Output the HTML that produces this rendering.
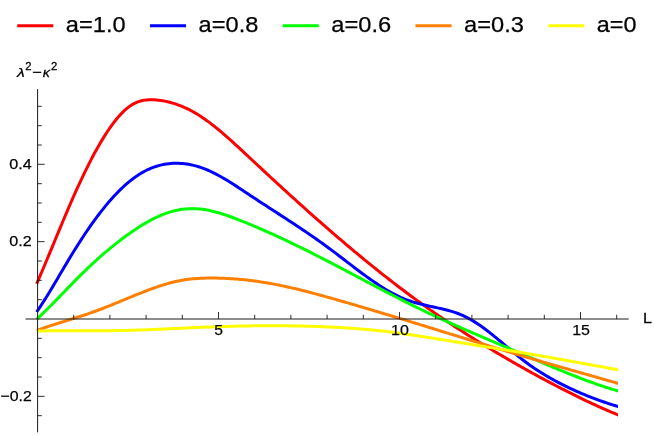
<!DOCTYPE html>
<html>
<head>
<meta charset="utf-8">
<title>Plot</title>
<style>
html,body{margin:0;padding:0;background:#fff;}
body{width:654px;height:436px;overflow:hidden;font-family:"Liberation Sans",sans-serif;}
svg{display:block;}
text{font-family:"Liberation Sans",sans-serif;fill:#000;stroke:#000;stroke-width:0.25px;}
</style>
</head>
<body>
<svg width="654" height="436" viewBox="0 0 654 436">
<rect width="654" height="436" fill="#ffffff"/>
<defs><clipPath id="pc"><rect x="0" y="80" width="618.0" height="356"/></clipPath></defs>
<g fill="none" stroke-width="3.0" stroke-linejoin="round" stroke-linecap="butt" clip-path="url(#pc)">
<path d="M36.6,283.86 L38.6,279.28 L40.6,274.65 L42.6,269.97 L44.6,265.25 L46.6,260.49 L48.6,255.70 L50.6,250.90 L52.6,246.08 L54.6,241.25 L56.6,236.42 L58.6,231.60 L60.6,226.80 L62.6,222.01 L64.6,217.26 L66.6,212.54 L68.6,207.87 L70.6,203.24 L72.6,198.68 L74.6,194.17 L76.6,189.72 L78.6,185.34 L80.6,181.03 L82.6,176.80 L84.6,172.64 L86.6,168.55 L88.6,164.55 L90.6,160.64 L92.6,156.81 L94.6,153.07 L96.6,149.43 L98.6,145.89 L100.6,142.45 L102.6,139.11 L104.6,135.88 L106.6,132.76 L108.6,129.76 L110.6,126.87 L112.6,124.11 L114.6,121.48 L116.6,118.98 L118.6,116.62 L120.6,114.41 L122.6,112.34 L124.6,110.43 L126.6,108.67 L128.6,107.07 L130.6,105.65 L132.6,104.39 L134.6,103.31 L136.6,102.39 L138.6,101.62 L140.6,100.99 L142.6,100.50 L144.6,100.13 L146.6,99.88 L148.6,99.72 L150.6,99.67 L152.6,99.69 L154.6,99.79 L156.6,99.96 L158.6,100.18 L160.6,100.44 L162.6,100.76 L164.6,101.13 L166.6,101.54 L168.6,102.00 L170.6,102.51 L172.6,103.08 L174.6,103.69 L176.6,104.35 L178.6,105.06 L180.6,105.83 L182.6,106.64 L184.6,107.51 L186.6,108.43 L188.6,109.40 L190.6,110.42 L192.6,111.50 L194.6,112.62 L196.6,113.80 L198.6,115.04 L200.6,116.32 L202.6,117.65 L204.6,119.02 L206.6,120.44 L208.6,121.90 L210.6,123.40 L212.6,124.94 L214.6,126.51 L216.6,128.12 L218.6,129.76 L220.6,131.43 L222.6,133.12 L224.6,134.85 L226.6,136.59 L228.6,138.36 L230.6,140.14 L232.6,141.95 L234.6,143.77 L236.6,145.60 L238.6,147.44 L240.6,149.30 L242.6,151.16 L244.6,153.03 L246.6,154.90 L248.6,156.77 L250.6,158.64 L252.6,160.51 L254.6,162.38 L256.6,164.24 L258.6,166.11 L260.6,167.97 L262.6,169.83 L264.6,171.69 L266.6,173.54 L268.6,175.39 L270.6,177.24 L272.6,179.09 L274.6,180.93 L276.6,182.77 L278.6,184.61 L280.6,186.45 L282.6,188.28 L284.6,190.11 L286.6,191.94 L288.6,193.76 L290.6,195.58 L292.6,197.39 L294.6,199.21 L296.6,201.01 L298.6,202.82 L300.6,204.62 L302.6,206.42 L304.6,208.21 L306.6,210.00 L308.6,211.79 L310.6,213.57 L312.6,215.34 L314.6,217.12 L316.6,218.89 L318.6,220.65 L320.6,222.41 L322.6,224.16 L324.6,225.91 L326.6,227.66 L328.6,229.40 L330.6,231.13 L332.6,232.86 L334.6,234.59 L336.6,236.31 L338.6,238.02 L340.6,239.73 L342.6,241.44 L344.6,243.14 L346.6,244.83 L348.6,246.52 L350.6,248.20 L352.6,249.88 L354.6,251.55 L356.6,253.21 L358.6,254.87 L360.6,256.52 L362.6,258.17 L364.6,259.81 L366.6,261.45 L368.6,263.08 L370.6,264.70 L372.6,266.31 L374.6,267.92 L376.6,269.53 L378.6,271.12 L380.6,272.71 L382.6,274.30 L384.6,275.87 L386.6,277.44 L388.6,279.01 L390.6,280.56 L392.6,282.11 L394.6,283.65 L396.6,285.19 L398.6,286.71 L400.6,288.23 L402.6,289.75 L404.6,291.25 L406.6,292.75 L408.6,294.24 L410.6,295.72 L412.6,297.20 L414.6,298.66 L416.6,300.12 L418.6,301.57 L420.6,303.02 L422.6,304.45 L424.6,305.88 L426.6,307.30 L428.6,308.71 L430.6,310.11 L432.6,311.51 L434.6,312.90 L436.6,314.28 L438.6,315.66 L440.6,317.02 L442.6,318.38 L444.6,319.73 L446.6,321.08 L448.6,322.42 L450.6,323.75 L452.6,325.07 L454.6,326.39 L456.6,327.70 L458.6,329.01 L460.6,330.30 L462.6,331.59 L464.6,332.88 L466.6,334.16 L468.6,335.43 L470.6,336.69 L472.6,337.95 L474.6,339.21 L476.6,340.46 L478.6,341.70 L480.6,342.93 L482.6,344.16 L484.6,345.39 L486.6,346.61 L488.6,347.82 L490.6,349.03 L492.6,350.23 L494.6,351.43 L496.6,352.62 L498.6,353.80 L500.6,354.98 L502.6,356.16 L504.6,357.33 L506.6,358.50 L508.6,359.66 L510.6,360.82 L512.6,361.97 L514.6,363.11 L516.6,364.25 L518.6,365.39 L520.6,366.52 L522.6,367.65 L524.6,368.77 L526.6,369.88 L528.6,370.99 L530.6,372.10 L532.6,373.20 L534.6,374.30 L536.6,375.39 L538.6,376.47 L540.6,377.56 L542.6,378.63 L544.6,379.70 L546.6,380.77 L548.6,381.83 L550.6,382.89 L552.6,383.94 L554.6,384.99 L556.6,386.03 L558.6,387.07 L560.6,388.10 L562.6,389.12 L564.6,390.15 L566.6,391.16 L568.6,392.17 L570.6,393.18 L572.6,394.18 L574.6,395.17 L576.6,396.16 L578.6,397.14 L580.6,398.11 L582.6,399.08 L584.6,400.04 L586.6,400.99 L588.6,401.94 L590.6,402.88 L592.6,403.81 L594.6,404.73 L596.6,405.64 L598.6,406.55 L600.6,407.45 L602.6,408.34 L604.6,409.22 L606.6,410.09 L608.6,410.95 L610.6,411.80 L612.6,412.64 L614.6,413.47 L616.6,414.29 L618.6,415.11 L620.6,415.91" stroke="#ff0000"/>
<path d="M36.6,312.00 L38.6,309.10 L40.6,306.11 L42.6,303.05 L44.6,299.92 L46.6,296.73 L48.6,293.49 L50.6,290.20 L52.6,286.88 L54.6,283.52 L56.6,280.14 L58.6,276.75 L60.6,273.36 L62.6,269.96 L64.6,266.58 L66.6,263.21 L68.6,259.86 L70.6,256.55 L72.6,253.27 L74.6,250.04 L76.6,246.84 L78.6,243.69 L80.6,240.58 L82.6,237.51 L84.6,234.49 L86.6,231.52 L88.6,228.59 L90.6,225.72 L92.6,222.90 L94.6,220.12 L96.6,217.41 L98.6,214.74 L100.6,212.14 L102.6,209.59 L104.6,207.10 L106.6,204.67 L108.6,202.30 L110.6,199.99 L112.6,197.75 L114.6,195.57 L116.6,193.46 L118.6,191.42 L120.6,189.44 L122.6,187.53 L124.6,185.69 L126.6,183.92 L128.6,182.22 L130.6,180.59 L132.6,179.03 L134.6,177.54 L136.6,176.13 L138.6,174.80 L140.6,173.54 L142.6,172.36 L144.6,171.25 L146.6,170.22 L148.6,169.27 L150.6,168.40 L152.6,167.59 L154.6,166.87 L156.6,166.21 L158.6,165.62 L160.6,165.11 L162.6,164.65 L164.6,164.27 L166.6,163.95 L168.6,163.69 L170.6,163.50 L172.6,163.36 L174.6,163.28 L176.6,163.27 L178.6,163.30 L180.6,163.40 L182.6,163.55 L184.6,163.75 L186.6,164.02 L188.6,164.34 L190.6,164.71 L192.6,165.14 L194.6,165.62 L196.6,166.16 L198.6,166.75 L200.6,167.39 L202.6,168.09 L204.6,168.84 L206.6,169.65 L208.6,170.50 L210.6,171.41 L212.6,172.36 L214.6,173.35 L216.6,174.38 L218.6,175.45 L220.6,176.56 L222.6,177.70 L224.6,178.87 L226.6,180.06 L228.6,181.29 L230.6,182.53 L232.6,183.79 L234.6,185.07 L236.6,186.37 L238.6,187.68 L240.6,189.00 L242.6,190.32 L244.6,191.65 L246.6,192.98 L248.6,194.31 L250.6,195.64 L252.6,196.96 L254.6,198.27 L256.6,199.59 L258.6,200.89 L260.6,202.20 L262.6,203.50 L264.6,204.80 L266.6,206.10 L268.6,207.40 L270.6,208.69 L272.6,209.99 L274.6,211.29 L276.6,212.58 L278.6,213.88 L280.6,215.18 L282.6,216.48 L284.6,217.78 L286.6,219.08 L288.6,220.39 L290.6,221.70 L292.6,223.02 L294.6,224.34 L296.6,225.66 L298.6,226.99 L300.6,228.33 L302.6,229.67 L304.6,231.02 L306.6,232.38 L308.6,233.74 L310.6,235.12 L312.6,236.50 L314.6,237.89 L316.6,239.29 L318.6,240.70 L320.6,242.12 L322.6,243.56 L324.6,245.00 L326.6,246.46 L328.6,247.92 L330.6,249.40 L332.6,250.90 L334.6,252.40 L336.6,253.92 L338.6,255.44 L340.6,256.96 L342.6,258.50 L344.6,260.03 L346.6,261.57 L348.6,263.10 L350.6,264.63 L352.6,266.16 L354.6,267.69 L356.6,269.20 L358.6,270.71 L360.6,272.21 L362.6,273.69 L364.6,275.16 L366.6,276.62 L368.6,278.06 L370.6,279.47 L372.6,280.87 L374.6,282.25 L376.6,283.60 L378.6,284.93 L380.6,286.23 L382.6,287.50 L384.6,288.74 L386.6,289.94 L388.6,291.12 L390.6,292.25 L392.6,293.35 L394.6,294.40 L396.6,295.42 L398.6,296.39 L400.6,297.32 L402.6,298.19 L404.6,299.02 L406.6,299.80 L408.6,300.53 L410.6,301.21 L412.6,301.85 L414.6,302.46 L416.6,303.03 L418.6,303.57 L420.6,304.08 L422.6,304.57 L424.6,305.04 L426.6,305.50 L428.6,305.94 L430.6,306.37 L432.6,306.80 L434.6,307.23 L436.6,307.65 L438.6,308.09 L440.6,308.53 L442.6,308.99 L444.6,309.47 L446.6,309.97 L448.6,310.51 L450.6,311.07 L452.6,311.67 L454.6,312.31 L456.6,313.00 L458.6,313.74 L460.6,314.53 L462.6,315.39 L464.6,316.30 L466.6,317.29 L468.6,318.34 L470.6,319.45 L472.6,320.62 L474.6,321.85 L476.6,323.13 L478.6,324.47 L480.6,325.85 L482.6,327.27 L484.6,328.74 L486.6,330.24 L488.6,331.77 L490.6,333.34 L492.6,334.94 L494.6,336.55 L496.6,338.19 L498.6,339.85 L500.6,341.52 L502.6,343.21 L504.6,344.89 L506.6,346.58 L508.6,348.27 L510.6,349.96 L512.6,351.63 L514.6,353.29 L516.6,354.94 L518.6,356.56 L520.6,358.16 L522.6,359.73 L524.6,361.27 L526.6,362.77 L528.6,364.24 L530.6,365.67 L532.6,367.06 L534.6,368.43 L536.6,369.76 L538.6,371.06 L540.6,372.34 L542.6,373.58 L544.6,374.79 L546.6,375.98 L548.6,377.15 L550.6,378.28 L552.6,379.40 L554.6,380.49 L556.6,381.56 L558.6,382.61 L560.6,383.64 L562.6,384.65 L564.6,385.64 L566.6,386.62 L568.6,387.58 L570.6,388.53 L572.6,389.46 L574.6,390.37 L576.6,391.27 L578.6,392.15 L580.6,393.01 L582.6,393.86 L584.6,394.70 L586.6,395.52 L588.6,396.32 L590.6,397.11 L592.6,397.89 L594.6,398.65 L596.6,399.39 L598.6,400.12 L600.6,400.84 L602.6,401.54 L604.6,402.23 L606.6,402.90 L608.6,403.56 L610.6,404.21 L612.6,404.84 L614.6,405.46 L616.6,406.06 L618.6,406.65 L620.6,407.23" stroke="#0000ff"/>
<path d="M36.6,319.25 L38.6,317.41 L40.6,315.54 L42.6,313.63 L44.6,311.70 L46.6,309.74 L48.6,307.76 L50.6,305.76 L52.6,303.75 L54.6,301.71 L56.6,299.67 L58.6,297.62 L60.6,295.55 L62.6,293.49 L64.6,291.42 L66.6,289.35 L68.6,287.29 L70.6,285.23 L72.6,283.19 L74.6,281.15 L76.6,279.13 L78.6,277.12 L80.6,275.13 L82.6,273.17 L84.6,271.22 L86.6,269.30 L88.6,267.39 L90.6,265.51 L92.6,263.65 L94.6,261.82 L96.6,260.00 L98.6,258.21 L100.6,256.44 L102.6,254.70 L104.6,252.97 L106.6,251.27 L108.6,249.59 L110.6,247.94 L112.6,246.31 L114.6,244.70 L116.6,243.12 L118.6,241.56 L120.6,240.02 L122.6,238.51 L124.6,237.02 L126.6,235.56 L128.6,234.12 L130.6,232.71 L132.6,231.33 L134.6,229.97 L136.6,228.64 L138.6,227.33 L140.6,226.06 L142.6,224.83 L144.6,223.63 L146.6,222.46 L148.6,221.33 L150.6,220.24 L152.6,219.20 L154.6,218.19 L156.6,217.23 L158.6,216.31 L160.6,215.44 L162.6,214.62 L164.6,213.84 L166.6,213.12 L168.6,212.45 L170.6,211.84 L172.6,211.27 L174.6,210.77 L176.6,210.32 L178.6,209.92 L180.6,209.58 L182.6,209.29 L184.6,209.06 L186.6,208.88 L188.6,208.75 L190.6,208.67 L192.6,208.65 L194.6,208.68 L196.6,208.76 L198.6,208.89 L200.6,209.08 L202.6,209.32 L204.6,209.60 L206.6,209.93 L208.6,210.31 L210.6,210.72 L212.6,211.18 L214.6,211.68 L216.6,212.21 L218.6,212.77 L220.6,213.37 L222.6,213.99 L224.6,214.64 L226.6,215.32 L228.6,216.02 L230.6,216.74 L232.6,217.48 L234.6,218.23 L236.6,219.00 L238.6,219.78 L240.6,220.57 L242.6,221.36 L244.6,222.17 L246.6,222.98 L248.6,223.80 L250.6,224.63 L252.6,225.47 L254.6,226.31 L256.6,227.16 L258.6,228.02 L260.6,228.88 L262.6,229.75 L264.6,230.63 L266.6,231.52 L268.6,232.41 L270.6,233.31 L272.6,234.21 L274.6,235.12 L276.6,236.04 L278.6,236.96 L280.6,237.89 L282.6,238.82 L284.6,239.76 L286.6,240.71 L288.6,241.66 L290.6,242.62 L292.6,243.58 L294.6,244.54 L296.6,245.52 L298.6,246.49 L300.6,247.47 L302.6,248.46 L304.6,249.45 L306.6,250.44 L308.6,251.44 L310.6,252.45 L312.6,253.45 L314.6,254.47 L316.6,255.48 L318.6,256.50 L320.6,257.52 L322.6,258.55 L324.6,259.58 L326.6,260.61 L328.6,261.64 L330.6,262.68 L332.6,263.72 L334.6,264.77 L336.6,265.81 L338.6,266.86 L340.6,267.91 L342.6,268.96 L344.6,270.01 L346.6,271.06 L348.6,272.12 L350.6,273.17 L352.6,274.23 L354.6,275.28 L356.6,276.34 L358.6,277.40 L360.6,278.45 L362.6,279.51 L364.6,280.57 L366.6,281.62 L368.6,282.68 L370.6,283.73 L372.6,284.78 L374.6,285.84 L376.6,286.89 L378.6,287.93 L380.6,288.98 L382.6,290.02 L384.6,291.07 L386.6,292.11 L388.6,293.14 L390.6,294.18 L392.6,295.21 L394.6,296.24 L396.6,297.26 L398.6,298.28 L400.6,299.30 L402.6,300.31 L404.6,301.32 L406.6,302.33 L408.6,303.33 L410.6,304.32 L412.6,305.31 L414.6,306.30 L416.6,307.28 L418.6,308.26 L420.6,309.23 L422.6,310.19 L424.6,311.15 L426.6,312.10 L428.6,313.05 L430.6,313.99 L432.6,314.93 L434.6,315.86 L436.6,316.79 L438.6,317.72 L440.6,318.64 L442.6,319.55 L444.6,320.46 L446.6,321.37 L448.6,322.27 L450.6,323.17 L452.6,324.07 L454.6,324.96 L456.6,325.85 L458.6,326.73 L460.6,327.62 L462.6,328.50 L464.6,329.37 L466.6,330.25 L468.6,331.12 L470.6,331.99 L472.6,332.86 L474.6,333.72 L476.6,334.58 L478.6,335.45 L480.6,336.31 L482.6,337.16 L484.6,338.02 L486.6,338.88 L488.6,339.73 L490.6,340.59 L492.6,341.44 L494.6,342.29 L496.6,343.14 L498.6,343.99 L500.6,344.85 L502.6,345.70 L504.6,346.55 L506.6,347.40 L508.6,348.25 L510.6,349.10 L512.6,349.95 L514.6,350.81 L516.6,351.66 L518.6,352.52 L520.6,353.37 L522.6,354.23 L524.6,355.09 L526.6,355.94 L528.6,356.80 L530.6,357.66 L532.6,358.52 L534.6,359.38 L536.6,360.24 L538.6,361.09 L540.6,361.95 L542.6,362.80 L544.6,363.65 L546.6,364.50 L548.6,365.34 L550.6,366.18 L552.6,367.02 L554.6,367.86 L556.6,368.69 L558.6,369.52 L560.6,370.35 L562.6,371.17 L564.6,371.98 L566.6,372.79 L568.6,373.59 L570.6,374.39 L572.6,375.18 L574.6,375.97 L576.6,376.75 L578.6,377.52 L580.6,378.29 L582.6,379.04 L584.6,379.79 L586.6,380.54 L588.6,381.27 L590.6,382.00 L592.6,382.71 L594.6,383.42 L596.6,384.12 L598.6,384.81 L600.6,385.48 L602.6,386.15 L604.6,386.81 L606.6,387.45 L608.6,388.09 L610.6,388.71 L612.6,389.32 L614.6,389.92 L616.6,390.51 L618.6,391.09 L620.6,391.65" stroke="#00ff00"/>
<path d="M36.6,330.60 L38.6,329.84 L40.6,329.10 L42.6,328.37 L44.6,327.67 L46.6,326.98 L48.6,326.30 L50.6,325.63 L52.6,324.98 L54.6,324.34 L56.6,323.70 L58.6,323.08 L60.6,322.45 L62.6,321.84 L64.6,321.22 L66.6,320.61 L68.6,320.00 L70.6,319.39 L72.6,318.77 L74.6,318.16 L76.6,317.53 L78.6,316.91 L80.6,316.27 L82.6,315.62 L84.6,314.97 L86.6,314.30 L88.6,313.62 L90.6,312.93 L92.6,312.22 L94.6,311.50 L96.6,310.76 L98.6,310.01 L100.6,309.25 L102.6,308.48 L104.6,307.70 L106.6,306.92 L108.6,306.12 L110.6,305.32 L112.6,304.51 L114.6,303.70 L116.6,302.88 L118.6,302.06 L120.6,301.23 L122.6,300.41 L124.6,299.58 L126.6,298.76 L128.6,297.94 L130.6,297.11 L132.6,296.30 L134.6,295.48 L136.6,294.67 L138.6,293.87 L140.6,293.07 L142.6,292.28 L144.6,291.50 L146.6,290.73 L148.6,289.97 L150.6,289.22 L152.6,288.49 L154.6,287.78 L156.6,287.08 L158.6,286.40 L160.6,285.74 L162.6,285.10 L164.6,284.48 L166.6,283.89 L168.6,283.32 L170.6,282.78 L172.6,282.27 L174.6,281.79 L176.6,281.33 L178.6,280.91 L180.6,280.53 L182.6,280.17 L184.6,279.85 L186.6,279.56 L188.6,279.30 L190.6,279.07 L192.6,278.86 L194.6,278.69 L196.6,278.53 L198.6,278.41 L200.6,278.30 L202.6,278.22 L204.6,278.15 L206.6,278.11 L208.6,278.08 L210.6,278.07 L212.6,278.07 L214.6,278.09 L216.6,278.11 L218.6,278.16 L220.6,278.21 L222.6,278.28 L224.6,278.36 L226.6,278.45 L228.6,278.55 L230.6,278.66 L232.6,278.79 L234.6,278.93 L236.6,279.08 L238.6,279.25 L240.6,279.42 L242.6,279.61 L244.6,279.81 L246.6,280.02 L248.6,280.25 L250.6,280.49 L252.6,280.74 L254.6,281.00 L256.6,281.27 L258.6,281.56 L260.6,281.86 L262.6,282.17 L264.6,282.49 L266.6,282.82 L268.6,283.17 L270.6,283.52 L272.6,283.89 L274.6,284.27 L276.6,284.65 L278.6,285.05 L280.6,285.46 L282.6,285.88 L284.6,286.30 L286.6,286.74 L288.6,287.18 L290.6,287.63 L292.6,288.09 L294.6,288.56 L296.6,289.03 L298.6,289.52 L300.6,290.01 L302.6,290.50 L304.6,291.01 L306.6,291.52 L308.6,292.03 L310.6,292.55 L312.6,293.08 L314.6,293.61 L316.6,294.15 L318.6,294.69 L320.6,295.23 L322.6,295.78 L324.6,296.33 L326.6,296.89 L328.6,297.45 L330.6,298.02 L332.6,298.58 L334.6,299.15 L336.6,299.72 L338.6,300.29 L340.6,300.87 L342.6,301.44 L344.6,302.02 L346.6,302.60 L348.6,303.18 L350.6,303.76 L352.6,304.35 L354.6,304.93 L356.6,305.52 L358.6,306.10 L360.6,306.69 L362.6,307.28 L364.6,307.87 L366.6,308.47 L368.6,309.06 L370.6,309.65 L372.6,310.25 L374.6,310.85 L376.6,311.44 L378.6,312.04 L380.6,312.64 L382.6,313.24 L384.6,313.85 L386.6,314.45 L388.6,315.05 L390.6,315.66 L392.6,316.26 L394.6,316.87 L396.6,317.47 L398.6,318.08 L400.6,318.69 L402.6,319.30 L404.6,319.91 L406.6,320.52 L408.6,321.13 L410.6,321.74 L412.6,322.35 L414.6,322.97 L416.6,323.58 L418.6,324.19 L420.6,324.81 L422.6,325.42 L424.6,326.04 L426.6,326.65 L428.6,327.27 L430.6,327.88 L432.6,328.50 L434.6,329.12 L436.6,329.73 L438.6,330.35 L440.6,330.97 L442.6,331.59 L444.6,332.20 L446.6,332.82 L448.6,333.44 L450.6,334.06 L452.6,334.67 L454.6,335.29 L456.6,335.91 L458.6,336.53 L460.6,337.14 L462.6,337.76 L464.6,338.38 L466.6,338.99 L468.6,339.61 L470.6,340.23 L472.6,340.84 L474.6,341.46 L476.6,342.07 L478.6,342.69 L480.6,343.30 L482.6,343.91 L484.6,344.53 L486.6,345.14 L488.6,345.75 L490.6,346.36 L492.6,346.97 L494.6,347.58 L496.6,348.19 L498.6,348.80 L500.6,349.41 L502.6,350.01 L504.6,350.62 L506.6,351.22 L508.6,351.82 L510.6,352.43 L512.6,353.03 L514.6,353.63 L516.6,354.22 L518.6,354.82 L520.6,355.42 L522.6,356.01 L524.6,356.61 L526.6,357.20 L528.6,357.79 L530.6,358.38 L532.6,358.97 L534.6,359.55 L536.6,360.14 L538.6,360.72 L540.6,361.30 L542.6,361.88 L544.6,362.46 L546.6,363.04 L548.6,363.61 L550.6,364.19 L552.6,364.76 L554.6,365.33 L556.6,365.90 L558.6,366.47 L560.6,367.04 L562.6,367.61 L564.6,368.18 L566.6,368.75 L568.6,369.31 L570.6,369.88 L572.6,370.45 L574.6,371.01 L576.6,371.58 L578.6,372.15 L580.6,372.71 L582.6,373.28 L584.6,373.85 L586.6,374.41 L588.6,374.98 L590.6,375.55 L592.6,376.12 L594.6,376.68 L596.6,377.25 L598.6,377.82 L600.6,378.40 L602.6,378.97 L604.6,379.54 L606.6,380.12 L608.6,380.69 L610.6,381.27 L612.6,381.85 L614.6,382.43 L616.6,383.02 L618.6,383.60 L620.6,384.19" stroke="#ff8000"/>
<path d="M36.6,330.95 L38.6,330.93 L40.6,330.91 L42.6,330.90 L44.6,330.88 L46.6,330.87 L48.6,330.86 L50.6,330.85 L52.6,330.85 L54.6,330.84 L56.6,330.84 L58.6,330.84 L60.6,330.84 L62.6,330.83 L64.6,330.83 L66.6,330.84 L68.6,330.84 L70.6,330.84 L72.6,330.84 L74.6,330.84 L76.6,330.84 L78.6,330.84 L80.6,330.84 L82.6,330.84 L84.6,330.84 L86.6,330.84 L88.6,330.84 L90.6,330.83 L92.6,330.83 L94.6,330.82 L96.6,330.81 L98.6,330.80 L100.6,330.79 L102.6,330.78 L104.6,330.76 L106.6,330.74 L108.6,330.72 L110.6,330.70 L112.6,330.67 L114.6,330.64 L116.6,330.61 L118.6,330.57 L120.6,330.53 L122.6,330.49 L124.6,330.44 L126.6,330.39 L128.6,330.34 L130.6,330.28 L132.6,330.22 L134.6,330.16 L136.6,330.10 L138.6,330.03 L140.6,329.96 L142.6,329.89 L144.6,329.82 L146.6,329.74 L148.6,329.66 L150.6,329.58 L152.6,329.50 L154.6,329.42 L156.6,329.33 L158.6,329.25 L160.6,329.16 L162.6,329.07 L164.6,328.99 L166.6,328.90 L168.6,328.81 L170.6,328.71 L172.6,328.62 L174.6,328.53 L176.6,328.44 L178.6,328.35 L180.6,328.25 L182.6,328.16 L184.6,328.07 L186.6,327.98 L188.6,327.89 L190.6,327.80 L192.6,327.71 L194.6,327.62 L196.6,327.53 L198.6,327.44 L200.6,327.36 L202.6,327.27 L204.6,327.19 L206.6,327.11 L208.6,327.03 L210.6,326.95 L212.6,326.88 L214.6,326.80 L216.6,326.73 L218.6,326.66 L220.6,326.59 L222.6,326.53 L224.6,326.47 L226.6,326.41 L228.6,326.35 L230.6,326.30 L232.6,326.24 L234.6,326.19 L236.6,326.15 L238.6,326.10 L240.6,326.06 L242.6,326.02 L244.6,325.99 L246.6,325.95 L248.6,325.92 L250.6,325.89 L252.6,325.87 L254.6,325.84 L256.6,325.82 L258.6,325.80 L260.6,325.79 L262.6,325.77 L264.6,325.76 L266.6,325.76 L268.6,325.75 L270.6,325.75 L272.6,325.75 L274.6,325.76 L276.6,325.76 L278.6,325.77 L280.6,325.78 L282.6,325.80 L284.6,325.82 L286.6,325.84 L288.6,325.86 L290.6,325.89 L292.6,325.91 L294.6,325.95 L296.6,325.98 L298.6,326.02 L300.6,326.06 L302.6,326.10 L304.6,326.15 L306.6,326.20 L308.6,326.25 L310.6,326.31 L312.6,326.37 L314.6,326.43 L316.6,326.49 L318.6,326.56 L320.6,326.64 L322.6,326.71 L324.6,326.79 L326.6,326.88 L328.6,326.97 L330.6,327.06 L332.6,327.16 L334.6,327.26 L336.6,327.36 L338.6,327.47 L340.6,327.58 L342.6,327.70 L344.6,327.82 L346.6,327.95 L348.6,328.08 L350.6,328.22 L352.6,328.36 L354.6,328.51 L356.6,328.66 L358.6,328.81 L360.6,328.98 L362.6,329.14 L364.6,329.31 L366.6,329.49 L368.6,329.67 L370.6,329.86 L372.6,330.06 L374.6,330.26 L376.6,330.46 L378.6,330.67 L380.6,330.89 L382.6,331.11 L384.6,331.34 L386.6,331.57 L388.6,331.81 L390.6,332.06 L392.6,332.31 L394.6,332.56 L396.6,332.82 L398.6,333.09 L400.6,333.36 L402.6,333.63 L404.6,333.91 L406.6,334.19 L408.6,334.47 L410.6,334.76 L412.6,335.05 L414.6,335.35 L416.6,335.65 L418.6,335.95 L420.6,336.25 L422.6,336.56 L424.6,336.87 L426.6,337.18 L428.6,337.49 L430.6,337.81 L432.6,338.13 L434.6,338.44 L436.6,338.76 L438.6,339.09 L440.6,339.41 L442.6,339.73 L444.6,340.06 L446.6,340.38 L448.6,340.71 L450.6,341.04 L452.6,341.36 L454.6,341.69 L456.6,342.02 L458.6,342.34 L460.6,342.67 L462.6,342.99 L464.6,343.32 L466.6,343.64 L468.6,343.97 L470.6,344.29 L472.6,344.61 L474.6,344.94 L476.6,345.26 L478.6,345.58 L480.6,345.91 L482.6,346.23 L484.6,346.55 L486.6,346.87 L488.6,347.20 L490.6,347.52 L492.6,347.84 L494.6,348.17 L496.6,348.49 L498.6,348.82 L500.6,349.14 L502.6,349.47 L504.6,349.79 L506.6,350.12 L508.6,350.45 L510.6,350.77 L512.6,351.10 L514.6,351.43 L516.6,351.76 L518.6,352.09 L520.6,352.43 L522.6,352.76 L524.6,353.10 L526.6,353.43 L528.6,353.77 L530.6,354.11 L532.6,354.45 L534.6,354.79 L536.6,355.13 L538.6,355.48 L540.6,355.82 L542.6,356.17 L544.6,356.52 L546.6,356.87 L548.6,357.22 L550.6,357.57 L552.6,357.93 L554.6,358.28 L556.6,358.64 L558.6,358.99 L560.6,359.35 L562.6,359.71 L564.6,360.07 L566.6,360.43 L568.6,360.79 L570.6,361.16 L572.6,361.52 L574.6,361.88 L576.6,362.24 L578.6,362.61 L580.6,362.97 L582.6,363.33 L584.6,363.70 L586.6,364.06 L588.6,364.43 L590.6,364.79 L592.6,365.15 L594.6,365.52 L596.6,365.88 L598.6,366.24 L600.6,366.60 L602.6,366.96 L604.6,367.33 L606.6,367.69 L608.6,368.04 L610.6,368.40 L612.6,368.76 L614.6,369.12 L616.6,369.47 L618.6,369.83 L620.6,370.18" stroke="#ffff00"/>
</g>
<g stroke="#1a1a1a" stroke-width="1" fill="none">
<line x1="25.5" y1="319.0" x2="628.7" y2="319.0"/>
<line x1="37.6" y1="89.1" x2="37.6" y2="432.4"/>
</g>
<g stroke="#1a1a1a" stroke-width="0.9" fill="none">
<line x1="37.60" y1="415.68" x2="41.80" y2="415.68"/>
<line x1="37.60" y1="396.34" x2="44.60" y2="396.34"/>
<line x1="37.60" y1="377.00" x2="41.80" y2="377.00"/>
<line x1="37.60" y1="357.67" x2="41.80" y2="357.67"/>
<line x1="37.60" y1="338.33" x2="41.80" y2="338.33"/>
<line x1="37.60" y1="299.67" x2="41.80" y2="299.67"/>
<line x1="37.60" y1="280.33" x2="41.80" y2="280.33"/>
<line x1="37.60" y1="261.00" x2="41.80" y2="261.00"/>
<line x1="37.60" y1="241.66" x2="44.60" y2="241.66"/>
<line x1="37.60" y1="222.32" x2="41.80" y2="222.32"/>
<line x1="37.60" y1="202.99" x2="41.80" y2="202.99"/>
<line x1="37.60" y1="183.66" x2="41.80" y2="183.66"/>
<line x1="37.60" y1="164.32" x2="44.60" y2="164.32"/>
<line x1="37.60" y1="144.99" x2="41.80" y2="144.99"/>
<line x1="37.60" y1="125.65" x2="41.80" y2="125.65"/>
<line x1="37.60" y1="106.31" x2="41.80" y2="106.31"/>
<line x1="73.70" y1="319.00" x2="73.70" y2="314.80"/>
<line x1="109.90" y1="319.00" x2="109.90" y2="314.80"/>
<line x1="146.10" y1="319.00" x2="146.10" y2="314.80"/>
<line x1="182.30" y1="319.00" x2="182.30" y2="314.80"/>
<line x1="218.50" y1="319.00" x2="218.50" y2="312.00"/>
<line x1="254.70" y1="319.00" x2="254.70" y2="314.80"/>
<line x1="290.90" y1="319.00" x2="290.90" y2="314.80"/>
<line x1="327.10" y1="319.00" x2="327.10" y2="314.80"/>
<line x1="363.30" y1="319.00" x2="363.30" y2="314.80"/>
<line x1="399.50" y1="319.00" x2="399.50" y2="312.00"/>
<line x1="435.70" y1="319.00" x2="435.70" y2="314.80"/>
<line x1="471.90" y1="319.00" x2="471.90" y2="314.80"/>
<line x1="508.10" y1="319.00" x2="508.10" y2="314.80"/>
<line x1="544.30" y1="319.00" x2="544.30" y2="314.80"/>
<line x1="580.50" y1="319.00" x2="580.50" y2="312.00"/>
<line x1="616.70" y1="319.00" x2="616.70" y2="314.80"/>
</g>
<line x1="17.20" y1="25.65" x2="53.30" y2="25.65" stroke="#ff0000" stroke-width="3"/>
<line x1="149.95" y1="25.65" x2="186.05" y2="25.65" stroke="#0000ff" stroke-width="3"/>
<line x1="282.70" y1="25.65" x2="318.80" y2="25.65" stroke="#00ff00" stroke-width="3"/>
<line x1="415.45" y1="25.65" x2="451.55" y2="25.65" stroke="#ff8000" stroke-width="3"/>
<line x1="548.20" y1="25.65" x2="584.30" y2="25.65" stroke="#ffff00" stroke-width="3"/>
<g style="filter:grayscale(1)">
<g font-size="14.9">
<text x="31.7" y="168.8" text-anchor="end" textLength="22.4" lengthAdjust="spacingAndGlyphs">0.4</text>
<text x="31.7" y="246.2" text-anchor="end" textLength="22.4" lengthAdjust="spacingAndGlyphs">0.2</text>
<text x="31.7" y="400.8" text-anchor="end" textLength="31.2" lengthAdjust="spacingAndGlyphs">&#8722;0.2</text>
<text x="218.5" y="334.9" text-anchor="middle" textLength="8.7" lengthAdjust="spacingAndGlyphs">5</text>
<text x="399.9" y="334.9" text-anchor="middle" textLength="17.8" lengthAdjust="spacingAndGlyphs">10</text>
<text x="581.1" y="334.9" text-anchor="middle" textLength="17.8" lengthAdjust="spacingAndGlyphs">15</text>
<text transform="translate(642.9,323.0) scale(1.08,1)">L</text>
</g>
<g font-size="13.7" font-style="italic">
<text transform="translate(16.9,77) scale(1.15,1)">&#955;</text>
<text transform="translate(25.2,70.4) scale(1.13,1)" font-size="10" font-style="normal">2</text>
<text transform="translate(32.0,77.3) scale(1.2,1)" font-style="normal">&#8722;</text>
<text transform="translate(42.8,77) scale(1.05,1)">&#954;</text>
<text transform="translate(51.1,70.4) scale(1.13,1)" font-size="10" font-style="normal">2</text>
</g>
<text x="65.80" y="31.85" font-size="21.9" textLength="59.8" lengthAdjust="spacingAndGlyphs">a=1.0</text>
<text x="198.55" y="31.85" font-size="21.9" textLength="59.8" lengthAdjust="spacingAndGlyphs">a=0.8</text>
<text x="331.30" y="31.85" font-size="21.9" textLength="59.8" lengthAdjust="spacingAndGlyphs">a=0.6</text>
<text x="464.05" y="31.85" font-size="21.9" textLength="59.8" lengthAdjust="spacingAndGlyphs">a=0.3</text>
<text x="596.80" y="31.85" font-size="21.9" textLength="39.7" lengthAdjust="spacingAndGlyphs">a=0</text>
</g>
</svg>
</body>
</html>
